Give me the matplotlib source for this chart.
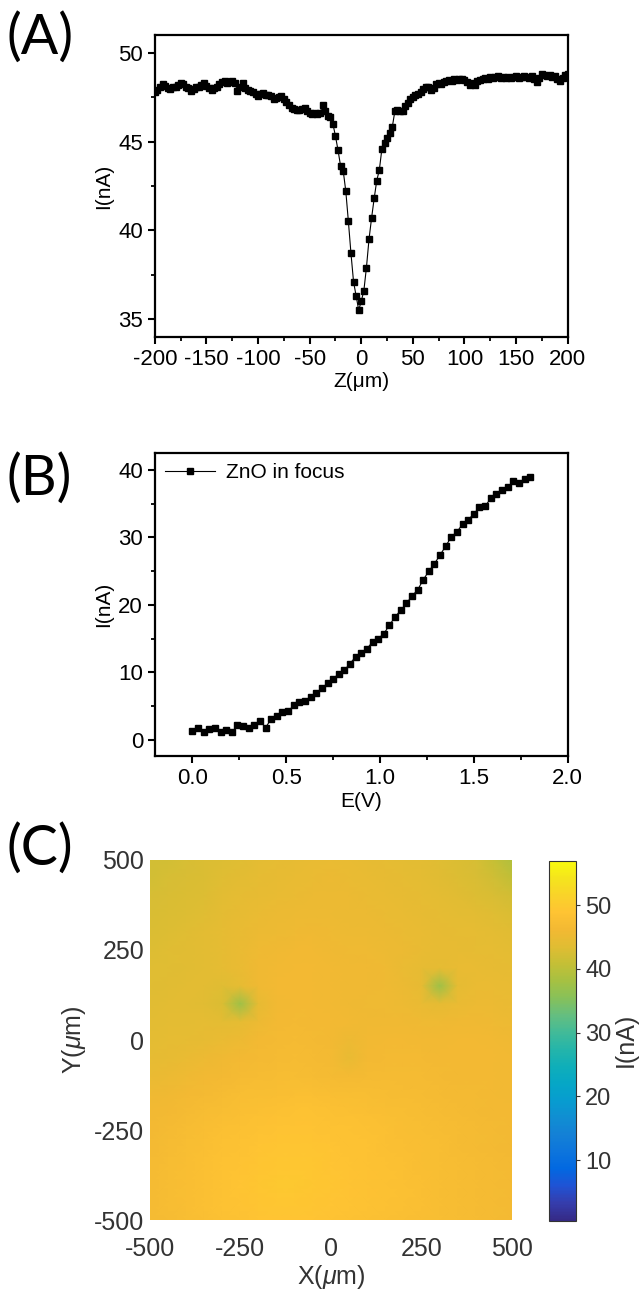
import numpy as np
import matplotlib
matplotlib.use('Agg')
import matplotlib.pyplot as plt
from matplotlib.colors import LinearSegmentedColormap
from matplotlib.ticker import MultipleLocator

plt.rcParams['font.family'] = ['Liberation Sans', 'DejaVu Sans']
plt.rcParams['mathtext.fontset'] = 'custom'
plt.rcParams['mathtext.it'] = 'Liberation Sans:italic'
plt.rcParams['axes.unicode_minus'] = False

# (A) current vs Z scan
z_um = np.arange(-200, 200.1, 2.5)
i_z = [47.8, 47.9, 48.1, 48.25, 48.15, 48.0, 47.95, 48.05,
       48.1, 48.2, 48.3, 48.25, 48.1, 48.0, 47.85, 47.95,
       48.1, 48.05, 48.2, 48.3, 48.15, 48.0, 47.9, 48.0,
       48.1, 48.25, 48.35, 48.4, 48.3, 48.35, 48.4, 48.3,
       47.85, 48.1, 48.3, 48.0, 47.9, 47.85, 47.8, 47.7,
       47.55, 47.7, 47.75, 47.65, 47.6, 47.55, 47.4, 47.45,
       47.5, 47.55, 47.4, 47.25, 47.05, 46.9, 46.85, 46.8,
       46.8, 46.85, 46.9, 46.75, 46.6, 46.55, 46.6, 46.55,
       46.6, 47.05, 46.7, 46.45, 46.4, 46.0, 45.3, 44.5,
       43.6, 43.35, 42.2, 40.5, 38.7, 37.1, 36.3, 35.5,
       36.0, 36.6, 37.9, 39.5, 40.7, 41.8, 42.8, 43.4,
       44.6, 44.9, 45.2, 45.5, 45.8, 46.7, 46.8, 46.7,
       46.7, 47.0, 47.2, 47.4, 47.5, 47.6, 47.7, 47.8,
       47.95, 48.1, 48.05, 47.9, 48.0, 48.25, 48.3, 48.25,
       48.35, 48.4, 48.45, 48.4, 48.5, 48.45, 48.55, 48.5,
       48.45, 48.35, 48.2, 48.3, 48.2, 48.4, 48.45, 48.5,
       48.6, 48.55, 48.65, 48.6, 48.65, 48.7, 48.6, 48.65,
       48.6, 48.65, 48.6, 48.65, 48.7, 48.6, 48.65, 48.7,
       48.65, 48.6, 48.7, 48.55, 48.35, 48.6, 48.8, 48.75,
       48.7, 48.75, 48.65, 48.7, 48.55, 48.4, 48.6, 48.75,
       48.8]

# (B) current vs potential
e_v = np.linspace(0, 1.8, 61)
i_e = [1.3, 1.8, 1.1, 1.6, 1.75, 1.1, 1.45, 1.1, 2.2, 2.1,
       1.75, 2.2, 2.8, 1.8, 3.1, 3.5, 4.1, 4.2, 5.1, 5.6,
       5.8, 6.4, 7.0, 7.6, 8.4, 9.0, 9.8, 10.3, 11.3, 12.3,
       12.9, 13.5, 14.5, 15.0, 15.7, 17.0, 18.2, 19.2, 20.2, 21.3,
       22.2, 23.7, 25.0, 26.1, 27.4, 28.7, 30.1, 30.8, 32.0, 32.6,
       33.5, 34.5, 34.6, 35.8, 36.5, 37.0, 37.4, 38.3, 38.0, 38.6,
       39.0]

# (C) current map, rows from Y=500 down to Y=-500, columns X=-500..500
map_x = np.arange(-500, 501, 50)
map_y = np.arange(500, -501, -50)
map_i = np.array([
    [42.0, 42.2, 42.5, 43.0, 43.2, 43.5, 44.0, 44.3, 44.5, 44.8, 45.0, 44.8, 44.5, 44.3, 44.0, 43.8, 43.5, 43.0, 42.5, 41.0, 39.0],
    [42.2, 42.5, 42.8, 43.0, 43.5, 43.8, 44.2, 44.5, 44.8, 45.0, 45.2, 45.0, 44.8, 44.5, 44.3, 44.0, 43.6, 43.2, 42.8, 41.8, 40.5],
    [42.5, 42.8, 43.0, 43.3, 43.8, 44.2, 44.5, 44.8, 45.0, 45.3, 45.3, 45.2, 45.0, 44.8, 44.5, 44.3, 44.0, 43.6, 43.2, 42.8, 42.0],
    [42.8, 43.0, 43.2, 43.5, 44.0, 44.5, 45.0, 45.2, 45.4, 45.5, 45.5, 45.3, 45.2, 45.0, 44.8, 44.5, 44.3, 44.0, 43.8, 43.5, 43.0],
    [43.0, 43.2, 43.4, 43.8, 44.2, 44.8, 45.3, 45.5, 45.6, 45.8, 45.6, 45.5, 45.4, 45.3, 45.0, 44.8, 44.6, 44.4, 44.2, 44.0, 43.6],
    [43.2, 43.4, 43.6, 43.8, 44.2, 45.0, 45.6, 45.8, 46.0, 46.0, 45.8, 45.6, 45.6, 45.5, 45.2, 44.8, 44.6, 44.5, 44.4, 44.2, 44.0],
    [43.4, 43.5, 43.6, 43.8, 44.2, 45.0, 45.8, 46.0, 46.2, 46.2, 46.0, 45.8, 45.8, 45.6, 45.0, 44.5, 44.4, 44.8, 44.8, 44.6, 44.4],
    [43.5, 43.6, 43.8, 43.8, 43.5, 44.2, 45.8, 46.2, 46.4, 46.2, 46.0, 45.8, 45.8, 45.6, 45.2, 44.5, 37.5, 44.2, 45.0, 45.0, 44.8],
    [43.6, 43.8, 43.8, 43.6, 43.0, 37.5, 44.5, 46.0, 46.4, 46.3, 46.0, 45.8, 45.6, 45.6, 45.5, 45.0, 44.2, 45.0, 45.3, 45.2, 45.0],
    [43.8, 44.0, 44.0, 44.2, 44.0, 44.4, 45.5, 46.4, 46.5, 46.4, 46.2, 46.0, 45.8, 45.8, 45.8, 45.6, 45.6, 45.8, 45.8, 45.6, 45.4],
    [44.0, 44.2, 44.4, 44.6, 45.0, 45.5, 46.2, 46.6, 46.7, 46.6, 46.3, 45.5, 46.0, 46.2, 46.2, 46.0, 46.0, 46.2, 46.2, 46.0, 45.8],
    [44.4, 44.6, 45.0, 45.4, 45.8, 46.2, 46.6, 46.8, 46.9, 46.8, 46.5, 44.8, 46.2, 46.5, 46.6, 46.5, 46.4, 46.4, 46.4, 46.2, 46.0],
    [45.0, 45.3, 45.6, 46.0, 46.4, 46.8, 47.0, 47.2, 47.2, 47.0, 46.8, 46.5, 46.8, 46.8, 46.8, 46.8, 46.6, 46.4, 46.4, 46.2, 46.0],
    [45.6, 45.9, 46.2, 46.6, 47.0, 47.3, 47.5, 47.6, 47.8, 47.8, 47.6, 47.4, 47.4, 47.2, 47.0, 47.0, 46.8, 46.6, 46.5, 46.3, 46.0],
    [46.0, 46.4, 46.8, 47.2, 47.5, 47.8, 48.0, 48.2, 48.4, 48.4, 48.2, 48.0, 47.8, 47.6, 47.4, 47.2, 47.0, 46.8, 46.6, 46.4, 46.2],
    [46.4, 46.8, 47.2, 47.6, 48.0, 48.3, 48.6, 48.8, 48.8, 48.8, 48.6, 48.4, 48.2, 48.0, 47.7, 47.5, 47.2, 47.0, 46.8, 46.5, 46.3],
    [46.6, 47.0, 47.4, 47.8, 48.2, 48.6, 48.9, 49.1, 49.2, 49.1, 48.9, 48.6, 48.4, 48.1, 47.8, 47.6, 47.3, 47.0, 46.8, 46.6, 46.4],
    [46.8, 47.2, 47.6, 48.0, 48.4, 48.8, 49.2, 49.4, 49.4, 49.3, 49.0, 48.7, 48.4, 48.2, 48.0, 47.7, 47.4, 47.1, 46.9, 46.7, 46.5],
    [46.8, 47.2, 47.6, 48.0, 48.5, 49.0, 49.3, 49.5, 49.5, 49.4, 49.1, 48.8, 48.5, 48.2, 48.0, 47.8, 47.5, 47.2, 47.0, 46.8, 46.6],
    [46.8, 47.2, 47.6, 48.0, 48.4, 48.8, 49.1, 49.3, 49.3, 49.2, 49.0, 48.7, 48.4, 48.2, 48.0, 47.8, 47.5, 47.2, 47.0, 46.8, 46.6],
    [46.7, 47.0, 47.4, 47.8, 48.2, 48.6, 48.9, 49.0, 49.0, 49.0, 48.8, 48.5, 48.3, 48.1, 47.9, 47.7, 47.4, 47.1, 46.9, 46.7, 46.5],
])

# parula-like colormap (upper half a bit more saturated, like the print)
parula = LinearSegmentedColormap.from_list('parula', [
    (0.2081, 0.1663, 0.5292), (0.2081, 0.2386, 0.6771), (0.1253, 0.3242, 0.8303),
    (0.0060, 0.4086, 0.8828), (0.0498, 0.4586, 0.8641), (0.0779, 0.5040, 0.8384),
    (0.0641, 0.5570, 0.8240), (0.0265, 0.6137, 0.8135), (0.0228, 0.6535, 0.7768),
    (0.0590, 0.6838, 0.7254), (0.1453, 0.7098, 0.6646), (0.2586, 0.7317, 0.5954),
    (0.3953, 0.7459, 0.5000), (0.5300, 0.7550, 0.3500), (0.6500, 0.7550, 0.2600),
    (0.7700, 0.7500, 0.2100), (0.8800, 0.7400, 0.2000), (0.9500, 0.7250, 0.2000),
    (0.9990, 0.7653, 0.2000), (0.9789, 0.8271, 0.1633), (0.9589, 0.8949, 0.1132),
    (0.9763, 0.9831, 0.0538)])

fig = plt.figure(figsize=(6.4, 13.0), dpi=100)

def style_origin(ax):
    for s in ax.spines.values():
        s.set_linewidth(1.6)
    ax.tick_params(which='major', direction='out', length=5, width=1.5, labelsize=16)
    ax.tick_params(which='minor', direction='out', length=3, width=1.3)

# panel A
axA = fig.add_axes([0.242, 0.741, 0.645, 0.232])
axA.plot(z_um, i_z, '-', color='black', lw=0.8, marker='s', ms=4.5)
axA.set_xlim(-200, 200)
axA.set_ylim(34, 51)
axA.xaxis.set_major_locator(MultipleLocator(50))
axA.xaxis.set_minor_locator(MultipleLocator(25))
axA.yaxis.set_major_locator(MultipleLocator(5))
axA.yaxis.set_minor_locator(MultipleLocator(2.5))
axA.set_xlabel('Z(\u03bcm)', fontsize=15, labelpad=2)
axA.set_ylabel('I(nA)', fontsize=15)
style_origin(axA)

# panel B
axB = fig.add_axes([0.242, 0.4185, 0.645, 0.233])
axB.plot(e_v, i_e, '-', color='black', lw=0.8, marker='s', ms=4.5, label='ZnO in focus')
axB.set_xlim(-0.2, 2.0)
axB.set_ylim(-2.4, 42.5)
axB.xaxis.set_major_locator(MultipleLocator(0.5))
axB.xaxis.set_minor_locator(MultipleLocator(0.25))
axB.yaxis.set_major_locator(MultipleLocator(10))
axB.yaxis.set_minor_locator(MultipleLocator(5))
axB.xaxis.set_major_formatter(matplotlib.ticker.FormatStrFormatter('%.1f'))
axB.set_xlabel('E(V)', fontsize=15, labelpad=2)
axB.set_ylabel('I(nA)', fontsize=15)
axB.legend(loc='upper left', frameon=False, fontsize=15, handlelength=2.4,
           borderaxespad=0.1, handletextpad=0.5)
style_origin(axB)

# panel C
gray = '#333333'
axC = fig.add_axes([0.234, 0.0615, 0.566, 0.277])
mesh = axC.pcolormesh(map_x, map_y, map_i, cmap=parula, vmin=0.5, vmax=57,
                      shading='gouraud')
axC.set_xlim(-500, 500)
axC.set_ylim(-500, 500)
axC.set_xticks([-500, -250, 0, 250, 500])
axC.set_yticks([-500, -250, 0, 250, 500])
for s in axC.spines.values():
    s.set_visible(False)
axC.tick_params(length=0, labelsize=18, colors=gray, pad=4)
axC.tick_params(axis='x', pad=12)
axC.set_xlabel('X($\\mu$m)', fontsize=18, color=gray, labelpad=2)
axC.set_ylabel('Y($\\mu$m)', fontsize=18, color=gray)

cax = fig.add_axes([0.858, 0.061, 0.042, 0.277])
cb = fig.colorbar(mesh, cax=cax)
cb.set_ticks([10, 20, 30, 40, 50])
cb.outline.set_linewidth(0.8)
cb.outline.set_edgecolor(gray)
cax.tick_params(direction='out', length=3, width=0.8, labelsize=17, colors=gray)
fig.text(0.978, 0.2, 'I(nA)', rotation=90, fontsize=18, color=gray,
         ha='center', va='center')

# panel letters
for lbl, yy in [('(A)', 0.971), ('(B)', 0.632), ('(C)', 0.347)]:
    fig.text(0.01, yy, lbl, fontsize=40, family=['Lato', 'DejaVu Sans'],
             ha='left', va='center')

fig.savefig('out.png', dpi=100)
